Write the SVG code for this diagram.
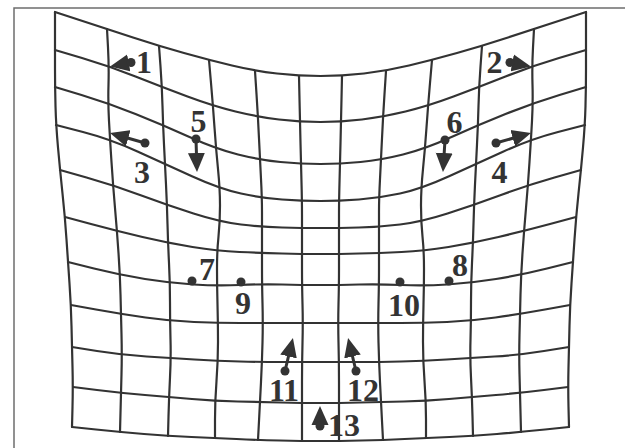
<svg xmlns="http://www.w3.org/2000/svg" width="625" height="448" viewBox="0 0 625 448">
<style>
.frame{fill:none;stroke:#6e6e6e;stroke-width:1.5}
.g{fill:none;stroke:#333;stroke-width:2.2;stroke-linecap:round;stroke-linejoin:round}
.sh{stroke:#333;stroke-width:3;fill:none}
.dot{fill:#333}
.lb{font-family:"Liberation Serif","Times New Roman",serif;font-weight:bold;font-size:32px;fill:#333;text-anchor:middle}
</style>
<defs>
<marker id="ah" viewBox="0 -9 20 18" refX="9" refY="0" markerWidth="20" markerHeight="18" markerUnits="userSpaceOnUse" orient="auto">
<path d="M0,-8.5 L19,0 L0,8.5 Z" fill="#333"/>
</marker>
</defs>
<rect width="625" height="448" fill="#fff"/>
<path class="frame" d="M14,448 L14,8 L626,8"/>
<g id="grid">
<g id="grid-left">
<path class="g" d="M55,12 L81,20.5 Q107,29 133,37.5 Q159,46 184,53 Q209,60 232,65.5 Q255,71 277,73.5 Q299,76 320.5,76"/>
<path class="g" d="M55,50 L82,58 Q109,66 135.5,76.5 Q162,87 187.5,96.5 Q213,106 235.5,111.5 Q258,117 279,119.5 Q300,122 320.5,122"/>
<path class="g" d="M55,87 L81.5,95 Q108,103 135.5,114 Q163,125 189.5,137 Q216,149 238,154.5 Q260,160 280.5,162 Q301,164 320.5,164"/>
<path class="g" d="M56,125 L83,132 Q110,139 137.5,151.5 Q165,164 192.5,176.5 Q220,189 241,193.5 Q262,198 282,199.5 Q302,201 320.5,201"/>
<path class="g" d="M60,170 L86.5,177.5 Q113,185 140,195 Q167,205 193.5,213.5 Q220,222 241,224.5 Q262,227 282,227.5 Q302,228 320.5,228"/>
<path class="g" d="M65,217 L91,224 Q117,231 142.5,237 Q168,243 192.5,247 Q217,251 239.5,252 Q262,253 282,253.5 Q302,254 320.5,254"/>
<path class="g" d="M68,262 L94,268.5 Q120,275 145,279 Q170,283 193.5,284.5 Q217,286 239.5,285 Q262,284 282,284.5 Q302,285 320.5,285"/>
<path class="g" d="M71,305 L96,309.5 Q121,314 145.5,317.5 Q170,321 194,322 Q218,323 240.5,323 Q263,323 283,323 Q303,323 320.5,323"/>
<path class="g" d="M72,347 L97,351 Q122,355 146.5,356.5 Q171,358 194.5,359.5 Q218,361 240,361.5 Q262,362 282,362 Q302,362 320.5,362"/>
<path class="g" d="M73,387 L97,390 Q121,393 145,395 Q169,397 192,399 Q215,401 237.5,401.5 Q260,402 281,402.5 Q302,403 320.5,403"/>
<path class="g" d="M72,427 L96,429.5 Q120,432 144,434 Q168,436 191.5,437 Q215,438 236.5,439 Q258,440 280,440.5 Q302,441 320.5,441"/>
<path class="g" d="M55,12 L55,31 Q55,50 55,68.5 Q55,87 55.5,106 Q56,125 58,147.5 Q60,170 62.5,193.5 Q65,217 66.5,239.5 Q68,262 69.5,283.5 Q71,305 71.5,326 Q72,347 72.5,367 Q73,387 72.5,407 L72,427"/>
<path class="g" d="M107,29 L108,47.5 Q109,66 108.5,84.5 Q108,103 109,121 Q110,139 111.5,162 Q113,185 115,208 Q117,231 118.5,253 Q120,275 120.5,294.5 Q121,314 121.5,334.5 Q122,355 121.5,374 Q121,393 120.5,412.5 L120,432"/>
<path class="g" d="M159,46 L160.5,66.5 Q162,87 162.5,106 Q163,125 164,144.5 Q165,164 166,184.5 Q167,205 167.5,224 Q168,243 169,263 Q170,283 170,302 Q170,321 170.5,339.5 Q171,358 170,377.5 Q169,397 168.5,416.5 L168,436"/>
<path class="g" d="M209,60 L211,83 Q213,106 214.5,127.5 Q216,149 218,169 Q220,189 220,205.5 Q220,222 218.5,236.5 Q217,251 217,268.5 Q217,286 217.5,304.5 Q218,323 218,342 Q218,361 216.5,381 Q215,401 215,419.5 L215,438"/>
<path class="g" d="M255,71 L256.5,94 Q258,117 259,138.5 Q260,160 261,179 Q262,198 262,212.5 Q262,227 262,240 Q262,253 262,268.5 Q262,284 262.5,303.5 Q263,323 262.5,342.5 Q262,362 261,382 Q260,402 259,421 L258,440"/>
<path class="g" d="M299,76 L299.5,99 Q300,122 300.5,143 Q301,164 301.5,182.5 Q302,201 302,214.5 Q302,228 302,241 Q302,254 302,269.5 Q302,285 302.5,304 Q303,323 302.5,342.5 Q302,362 302,382.5 Q302,403 302,422 L302,441"/>
</g>
<use href="#grid-left" transform="matrix(-1 0 0 1 641 0)"/>
</g>
<g id="connectors">
<line class="sh" x1="131" y1="62.5" x2="119.9" y2="64.6" marker-end="url(#ah)"/>
<line class="sh" x1="510" y1="62.5" x2="521.1" y2="64.6" marker-end="url(#ah)"/>
<line class="sh" x1="145" y1="143" x2="119.6" y2="135.75" marker-end="url(#ah)"/>
<line class="sh" x1="496" y1="143" x2="521.4" y2="135.75" marker-end="url(#ah)"/>
<line class="sh" x1="196" y1="139" x2="196.7" y2="162" marker-end="url(#ah)"/>
<line class="sh" x1="445" y1="140" x2="443.6" y2="162" marker-end="url(#ah)"/>
<line class="sh" x1="285" y1="371" x2="290.6" y2="347.7" marker-end="url(#ah)"/>
<line class="sh" x1="356" y1="371" x2="350.4" y2="347.7" marker-end="url(#ah)"/>
<line class="sh" x1="320" y1="426" x2="320" y2="416" marker-end="url(#ah)"/>
</g>
<g id="p1"><circle class="dot" cx="131" cy="62.5" r="4.5"/><text class="lb" x="144" y="73">1</text></g>
<g id="p2"><circle class="dot" cx="510" cy="62.5" r="4.5"/><text class="lb" x="494.5" y="73">2</text></g>
<g id="p3"><circle class="dot" cx="145" cy="143" r="4.5"/><text class="lb" x="142" y="183">3</text></g>
<g id="p4"><circle class="dot" cx="496" cy="143" r="4.5"/><text class="lb" x="499.5" y="183">4</text></g>
<g id="p5"><circle class="dot" cx="196" cy="139" r="4.5"/><text class="lb" x="198.5" y="132">5</text></g>
<g id="p6"><circle class="dot" cx="445" cy="140" r="4.5"/><text class="lb" x="454.5" y="133">6</text></g>
<g id="p7"><circle class="dot" cx="192" cy="281" r="4.5"/><text class="lb" x="207" y="280">7</text></g>
<g id="p8"><circle class="dot" cx="449" cy="281" r="4.5"/><text class="lb" x="460" y="276">8</text></g>
<g id="p9"><circle class="dot" cx="241" cy="282" r="4.5"/><text class="lb" x="243" y="314">9</text></g>
<g id="p10"><circle class="dot" cx="400" cy="282" r="4.5"/><text class="lb" x="404" y="316">10</text></g>
<g id="p11"><circle class="dot" cx="285" cy="371" r="4.5"/><text class="lb" x="284" y="401">11</text></g>
<g id="p12"><circle class="dot" cx="356" cy="371" r="4.5"/><text class="lb" x="363" y="401">12</text></g>
<g id="p13"><circle class="dot" cx="320" cy="426" r="4.5"/><text class="lb" x="344" y="436">13</text></g>
</svg>
